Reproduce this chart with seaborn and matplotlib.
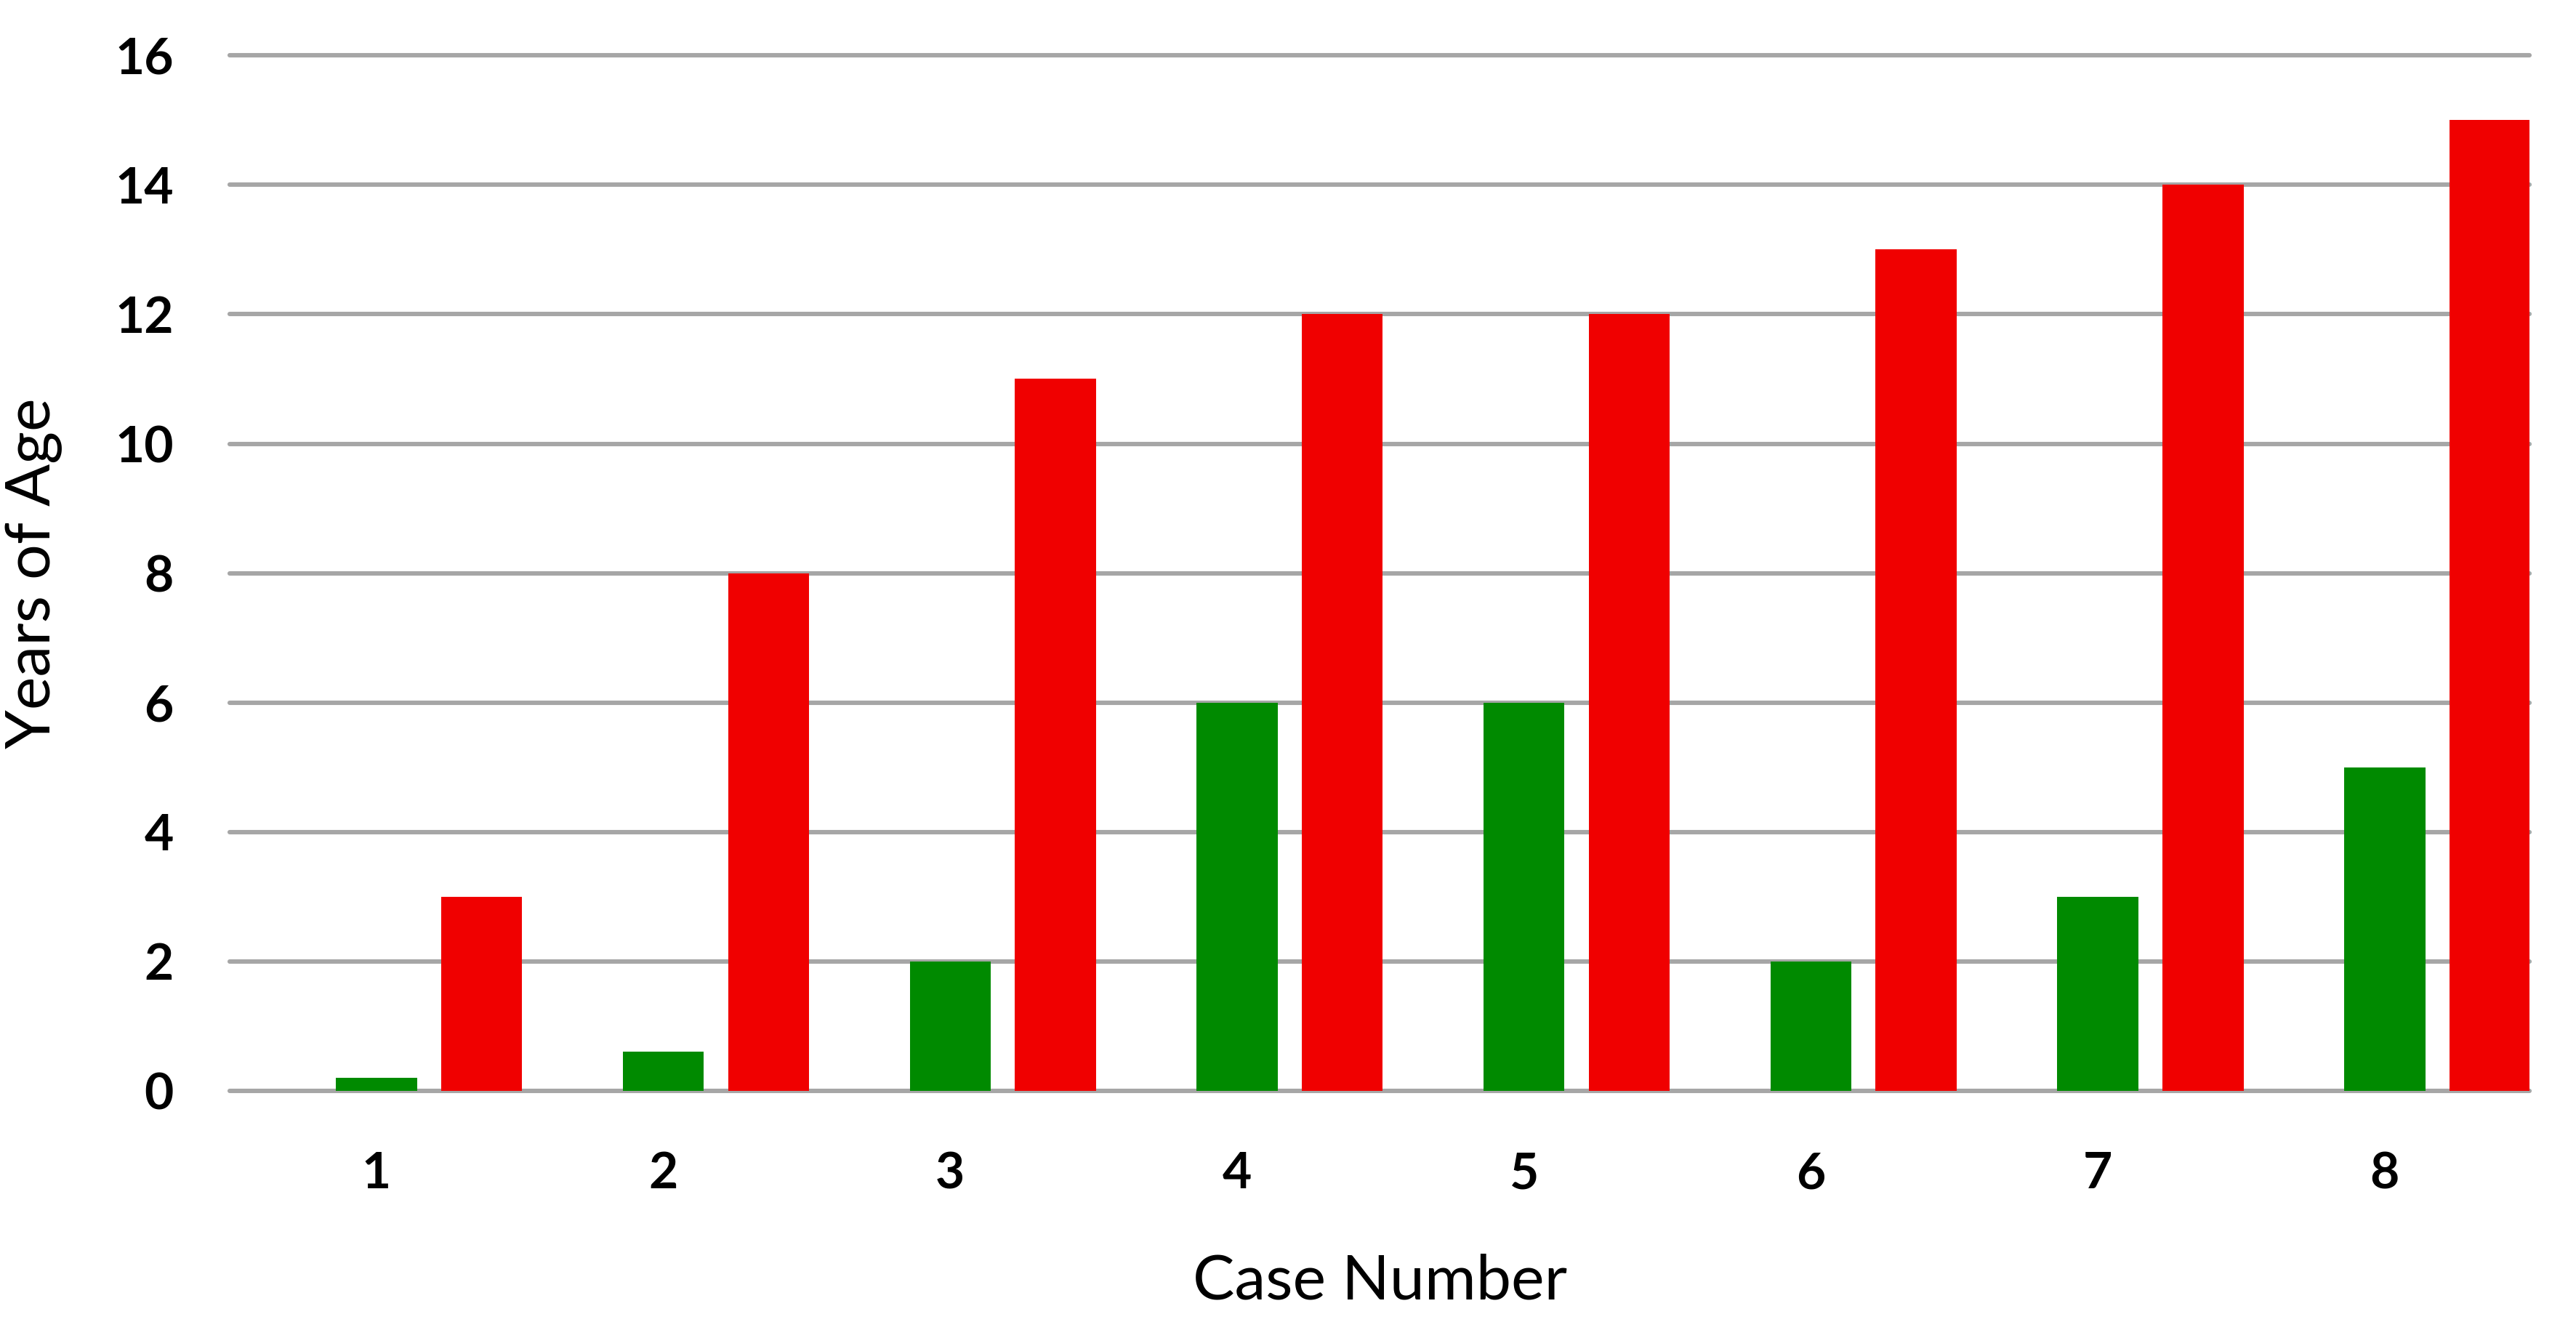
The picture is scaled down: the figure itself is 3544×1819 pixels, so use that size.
import matplotlib
matplotlib.use("Agg")
import matplotlib.pyplot as plt
import seaborn as sns
import pandas as pd

# chart data
cases = ["1", "2", "3", "4", "5", "6", "7", "8"]
green_ages = [0.2, 0.6, 2, 6, 6, 2, 3, 5]
red_ages = [3, 8, 11, 12, 12, 13, 14, 15]
y_ticks = [0, 2, 4, 6, 8, 10, 12, 14, 16]

GREEN = "#008a00"
RED = "#f00000"
GRID = "#a6a6a6"

sns.set_theme(style="white")
plt.rcParams["font.family"] = ["Lato", "DejaVu Sans"]
plt.rcParams["text.color"] = "black"
plt.rcParams["axes.labelcolor"] = "black"
plt.rcParams["xtick.color"] = "black"
plt.rcParams["ytick.color"] = "black"

df = pd.DataFrame({
    "case": cases * 2,
    "age": green_ages + red_ages,
    "series": ["green"] * len(cases) + ["red"] * len(cases),
})

fig = plt.figure(figsize=(17.72, 9.095), dpi=200)
ax = fig.add_axes([0.0893, 0.175, 0.8927, 0.783])

# an empty first hue level keeps an open slot, so the green bar sits on the tick
sns.barplot(data=df, x="case", y="age", hue="series",
            hue_order=["pad", "green", "red"],
            palette=["white", GREEN, RED],
            width=1.1, gap=0.23, saturation=1, legend=False, ax=ax,
            linewidth=0, err_kws={"linewidth": 0})

ax.set_ylim(0, 16)
ax.set_xlim(-0.51, 7.505)
ax.set_yticks(y_ticks)
ax.set_yticklabels([str(t) for t in y_ticks])

for t in y_ticks:
    ax.axhline(t, color=GRID, linewidth=2.2, zorder=0, clip_on=False)

for s in ax.spines.values():
    s.set_visible(False)

ax.tick_params(axis="both", length=0, labelsize=25)
ax.tick_params(axis="y", pad=28)
ax.tick_params(axis="x", pad=30)
for lbl in ax.get_xticklabels() + ax.get_yticklabels():
    lbl.set_fontweight("bold")

ax.set_xlabel("Case Number", fontsize=31, labelpad=28)
ax.set_ylabel("Years of Age", fontsize=31, labelpad=26)

fig.savefig("out.png", dpi=200)
